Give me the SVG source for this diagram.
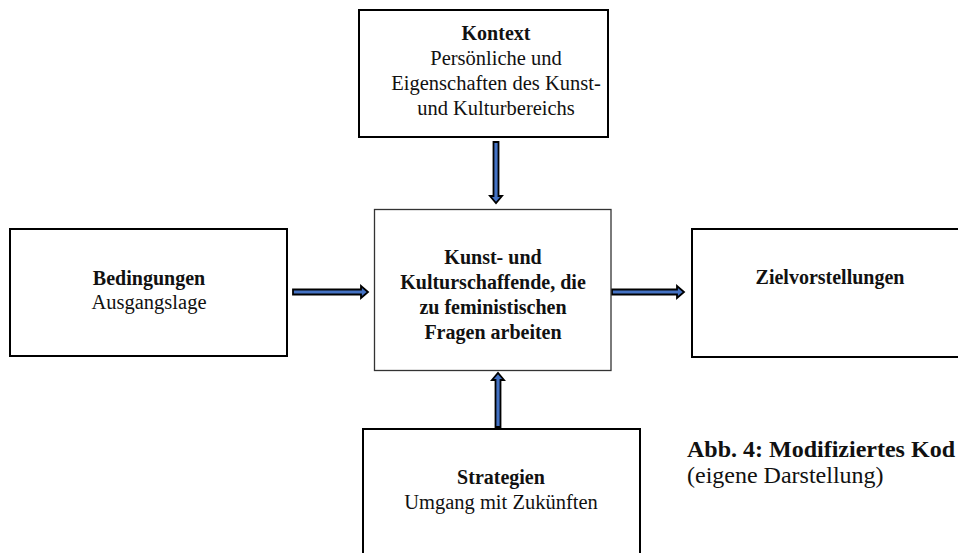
<svg xmlns="http://www.w3.org/2000/svg" width="958" height="553" viewBox="0 0 958 553">
<style>
.box{fill:#fff;stroke:#000;stroke-width:2}
.cbox{fill:#fff;stroke:#333;stroke-width:1.3}
text{font-family:"Liberation Serif","Times New Roman",serif;font-size:20.5px;fill:#111;text-anchor:middle}
.b{font-weight:bold;font-size:20px}
.cap{font-size:24px;text-anchor:start}
.arr{fill:#4472c4;stroke:#000;stroke-width:1.8;stroke-linejoin:miter}
</style>
<rect width="958" height="553" fill="#fff"/>
<g id="connectors">
<polygon class="arr" points="293,289.5 361,289.5 361,286 368,292 361,298 361,294.5 293,294.5"/>
<polygon class="arr" points="612,289.5 677,289.5 677,286 684,292 677,298 677,294.5 612,294.5"/>
<polygon class="arr" points="493.5,142 498.5,142 498.5,196 502,196 496,203 490,196 493.5,196"/>
<polygon class="arr" points="495.5,427 500.5,427 500.5,380 504,380 498,373 492,380 495.5,380"/>
</g>
<g id="kontext">
<rect class="box" x="359" y="10" width="249" height="127"/>
<text x="496" y="40" class="b">Kontext</text>
<text x="496" y="65">Persönliche und</text>
<text x="496" y="90">Eigenschaften des Kunst-</text>
<text x="496" y="115">und Kulturbereichs</text>
</g>
<g id="zentrum">
<rect class="cbox" x="374.5" y="209.5" width="236.5" height="161"/>
<text x="493" y="264" class="b">Kunst- und</text>
<text x="493" y="289" class="b">Kulturschaffende, die</text>
<text x="493" y="314" class="b">zu feministischen</text>
<text x="493" y="339" class="b">Fragen arbeiten</text>
</g>
<g id="bedingungen">
<rect class="box" x="10" y="229" width="277" height="127"/>
<text x="149" y="285" class="b">Bedingungen</text>
<text x="149" y="309">Ausgangslage</text>
</g>
<g id="ziel">
<rect class="box" x="692" y="229" width="280" height="128"/>
<text x="830" y="284" class="b">Zielvorstellungen</text>
</g>
<g id="strategien">
<rect class="box" x="363" y="429" width="277" height="140"/>
<text x="501" y="484" class="b">Strategien</text>
<text x="501" y="509">Umgang mit Zukünften</text>
</g>
<g id="caption">
<text x="687" y="457" class="cap" font-weight="bold" font-size="24.6">Abb. 4: Modifiziertes Kod</text>
<text x="687" y="483" class="cap">(eigene Darstellung)</text>
</g>
</svg>
